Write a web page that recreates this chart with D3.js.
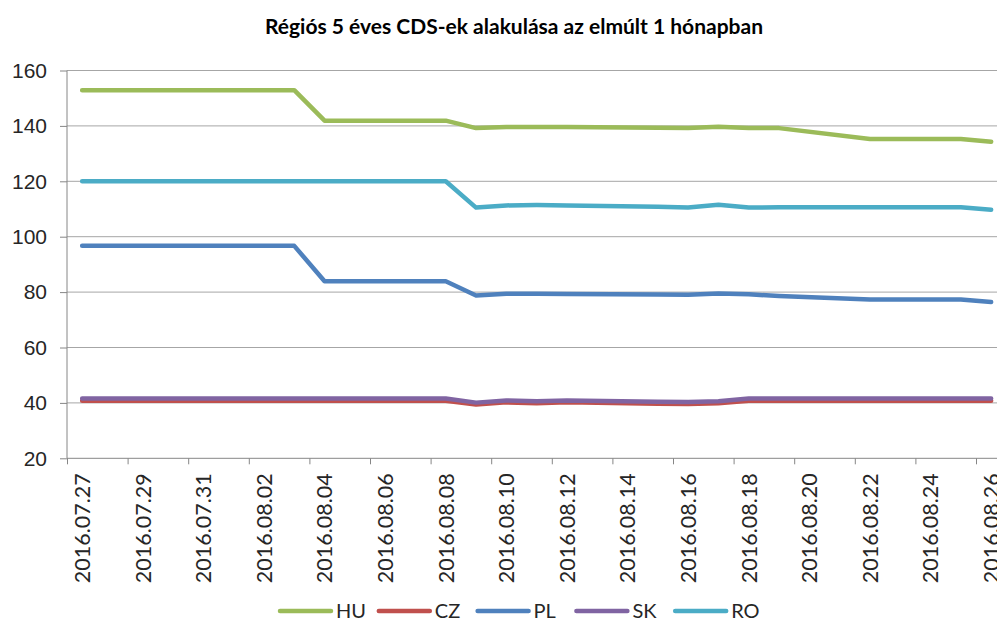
<!DOCTYPE html>
<html>
<head>
<meta charset="utf-8">
<script src="https://cdn.jsdelivr.net/npm/d3@7"></script>
<style>
  body { margin: 0; background: #fff; }
  svg { font-family: Lato, "Open Sans", sans-serif; }
  .grid line { stroke: #a6a6a6; }
  .axis path, .axis line { stroke: #868686; }
  .axis text { fill: #262626; }
</style>
</head>
<body>
<svg id="chart" width="997" height="621"></svg>
<script>
// Kereskedési napok (hétvégék nélkül)
var dates = ['2016.07.27', '2016.07.28', '2016.07.29', '2016.08.01', '2016.08.02', '2016.08.03',
    '2016.08.04', '2016.08.05', '2016.08.08', '2016.08.09', '2016.08.10', '2016.08.11',
    '2016.08.12', '2016.08.15', '2016.08.16', '2016.08.17', '2016.08.18', '2016.08.19',
    '2016.08.22', '2016.08.23', '2016.08.24', '2016.08.25', '2016.08.26'];

var hu = [152.9, 152.9, 152.9, 152.9, 152.9, 152.9, 141.9, 141.9, 141.9, 139.2, 139.6, 139.6,
    139.6, 139.3, 139.2, 139.7, 139.2, 139.2, 135.3, 135.3, 135.3, 135.3, 134.3];
var cz = [40.8, 40.8, 40.8, 40.8, 40.8, 40.8, 40.8, 40.8, 40.8, 39.4, 40.2, 39.9,
    40.2, 39.7, 39.6, 39.9, 40.8, 40.8, 40.8, 40.8, 40.8, 40.8, 40.8];
var pl = [96.7, 96.7, 96.7, 96.7, 96.7, 96.7, 83.9, 83.9, 83.9, 78.8, 79.4, 79.4,
    79.3, 79.1, 79.0, 79.5, 79.2, 78.6, 77.3, 77.3, 77.3, 77.3, 76.4];
var sk = [41.6, 41.6, 41.6, 41.6, 41.6, 41.6, 41.6, 41.6, 41.6, 40.1, 40.9, 40.6,
    40.9, 40.4, 40.3, 40.6, 41.6, 41.6, 41.6, 41.6, 41.6, 41.6, 41.6];
var ro = [120, 120, 120, 120, 120, 120, 120, 120, 120, 110.5, 111.3, 111.4,
    111.3, 110.8, 110.5, 111.5, 110.5, 110.6, 110.6, 110.6, 110.6, 110.6, 109.7];

var seriesNames = ['HU', 'CZ', 'PL', 'SK', 'RO'];
var seriesValues = [hu, cz, pl, sk, ro];
var colors = ['#9bbb59', '#c0504d', '#4f81bd', '#8064a2', '#4bacc6'];
var yTicks = [20, 40, 60, 80, 100, 120, 140, 160];
var title = 'Régiós 5 éves CDS-ek alakulása az elmúlt 1 hónapban';

var svg = d3.select('#chart');
var parse = d3.utcParse('%Y.%m.%d');
var fmt = d3.utcFormat('%Y.%m.%d');

var plotLeft = 67, plotTop = 70.5, plotBottom = 458.3;
var dayW = 30.3;
var first = parse(dates[0]);
var endDay = d3.utcDay.offset(parse(dates[dates.length - 1]), 1);

var x = d3.scaleUtc()
    .domain([first, endDay])
    .range([plotLeft, plotLeft + d3.utcDay.count(first, endDay) * dayW]);

var y = d3.scaleLinear()
    .domain([20, 160])
    .range([plotBottom, plotTop]);

// pont a nap közepén
function xc(d) { return x(d3.utcHour.offset(d, 12)); }

// rács
svg.append('g')
    .attr('class', 'grid')
    .selectAll('line')
    .data(yTicks.slice(1))
    .enter().append('line')
    .attr('x1', plotLeft)
    .attr('x2', 997)
    .attr('y1', d => y(d))
    .attr('y2', d => y(d));

// y tengely
var yAxis = d3.axisLeft(y)
    .tickValues(yTicks)
    .tickSize(7)
    .tickPadding(13);

svg.append('g')
    .attr('class', 'axis')
    .attr('transform', `translate(${plotLeft},0)`)
    .call(yAxis)
    .call(g => g.select('.domain').attr('d', `M0,${plotTop}V${plotBottom}`))
    .selectAll('text')
    .style('font-size', '21px');

// x tengely - kétnaponta
var tickDays = d3.utcDay.range(first, endDay, 2);

var xAxis = d3.axisBottom(x)
    .tickValues(tickDays)
    .tickSize(6)
    .tickFormat('');

svg.append('g')
    .attr('class', 'axis')
    .attr('transform', `translate(0,${plotBottom})`)
    .call(xAxis)
    .call(g => g.select('.domain').attr('d', `M${plotLeft},0H997`));

svg.append('g')
    .selectAll('text')
    .data(tickDays)
    .enter().append('text')
    .attr('transform', d => `translate(${xc(d)},${plotBottom + 15}) rotate(-90)`)
    .attr('text-anchor', 'end')
    .attr('dy', '0.36em')
    .style('font-size', '21.5px')
    .attr('fill', '#262626')
    .text(d => fmt(d));

// vonalak
var line = d3.line()
    .x(d => xc(d.date))
    .y(d => y(d.value));

seriesNames.forEach((name, i) => {
    var pts = dates.map((s, j) => ({ date: parse(s), value: seriesValues[i][j] }));
    svg.append('path')
        .datum(pts)
        .attr('fill', 'none')
        .attr('stroke', colors[i])
        .attr('stroke-width', 4.5)
        .attr('stroke-linejoin', 'round')
        .attr('stroke-linecap', 'round')
        .attr('d', line);
});

// cím
svg.append('text')
    .attr('x', 514)
    .attr('y', 34)
    .attr('text-anchor', 'middle')
    .style('font-size', '21px')
    .style('font-weight', 'bold')
    .attr('fill', '#000')
    .text(title);

// jelmagyarázat
var legend = svg.append('g')
    .selectAll('g')
    .data(seriesNames)
    .enter().append('g')
    .attr('transform', (d, i) => `translate(${280 + i * 98.8},611)`);

legend.append('line')
    .attr('x1', 0)
    .attr('x2', 51)
    .attr('stroke', (d, i) => colors[i])
    .attr('stroke-width', 4.5)
    .attr('stroke-linecap', 'round');

legend.append('text')
    .attr('x', 56)
    .attr('dy', '0.34em')
    .style('font-size', '20px')
    .attr('fill', '#262626')
    .text(d => d);
</script>
</body>
</html>
